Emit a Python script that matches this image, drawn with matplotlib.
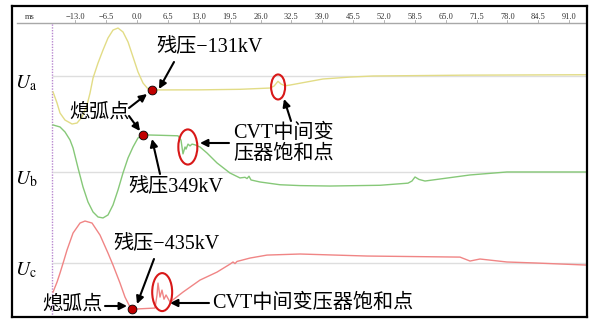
import matplotlib.pyplot as plt
from matplotlib.patches import Ellipse

plt.rcParams['mathtext.fontset'] = 'stix'
plt.rcParams['font.family'] = ['Liberation Serif', 'Noto Sans CJK SC']

# phase voltages in kV, time in ms
t_a = [-17.68, -16.84, -16.21, -15.16, -13.68, -12.63, -11.58, -10.53, -9.89, -9.26,
       -8.21, -7.16, -6.11, -5.05, -4.00, -2.95, -1.89, -0.84, 0.21, 1.26, 2.32, 3.16,
       13.26, 21.68, 28.0, 28.84, 29.68, 30.32, 31.16, 32.21, 39.16, 44.84, 49.68, 69.05, 94.74]
u_a = [-150, -254, -348, -414, -451, -442, -385, -273, -160, -19,
       122, 244, 357, 432, 451, 414, 320, 179, 38, -66, -122, -131,
       -130, -125, -113, -95, -50, -75, -92, -85, -28, -10, 0, 8, 12]

t_b = [-17.68, -16.21, -15.16, -14.11, -13.47, -12.42, -11.37, -10.32, -9.26, -8.21,
       -7.16, -6.11, -5.05, -4.00, -2.95, -1.89, -0.84, 0.21, 1.26,
       4.84, 8.63, 9.26, 9.68, 10.11, 10.32, 10.74, 11.16, 11.58, 12.21, 13.26, 14.74,
       16.84, 19.58, 21.68, 22.74, 23.16, 23.58, 24.0, 25.89, 30.11, 34.32, 40.63, 51.16,
       57.05, 57.89, 58.53, 59.37, 60.63, 63.79, 70.11, 77.89, 94.74]
u_b = [442, 423, 376, 301, 226, 38, -141, -282, -376, -423,
       -432, -404, -310, -169, -9, 132, 235, 320, 349,
       345, 340, 300, 170, 235, 215, 262, 245, 262, 255, 235, 178,
       85, -10, -56, -50, -62, -40, -75, -94, -120, -128, -132, -125,
       -105, -85, -47, -70, -85, -66, -28, 0, 0]

t_c = [-17.68, -16.84, -16.21, -15.37, -14.74, -13.47, -12.0, -10.95, -9.47, -7.79,
       -6.11, -5.05, -3.58, -2.53, -1.68, -1.05,
       0.63, 3.79, 4.21, 4.42, 4.84, 5.26, 5.68, 6.11, 6.95, 9.68, 13.26, 16.84, 19.58,
       20.21, 20.63, 21.05, 23.79, 27.37, 34.32, 48.42, 68.0, 70.11, 72.21, 77.89, 84.21, 94.74]
u_c = [-273, -179, -94, 28, 122, 282, 376, 395, 376, 263,
       94, -19, -188, -320, -395, -435,
       -430, -423, -300, -188, -320, -254, -340, -300, -367, -273, -160, -85, -10,
       10, -5, 15, 47, 75, 85, 66, 56, 19, 38, 10, 0, -19]

# arc extinction instants and residual voltages
t_ext = [3.16, 1.26, -1.05]
u_res = [-131, 349, -435]

# CVT saturation regions: centre (ms, kV) and size (ms, kV)
sat_t = [29.7, 10.7, 5.3]
sat_u = [-103, 235, -273]
sat_w = [2.95, 4.0, 4.2]
sat_h = [235, 330, 357]

tick_ms = [-13.0, -6.5, 0.0, 6.5, 13.0, 19.5, 26.0, 32.5, 39.0, 45.5,
           52.0, 58.5, 65.0, 71.5, 78.0, 84.5, 91.0]

offsets = [0, -902, -1758]
colors = ['#e2dc86', '#86c878', '#f08585']
names = [r'$U_{\mathrm{a}}$', r'$U_{\mathrm{b}}$', r'$U_{\mathrm{c}}$']
t_start = -17.9

fig = plt.figure(figsize=(5.92, 3.2), dpi=100)
ax = fig.add_axes([12 / 592, 3 / 320, 575 / 592, 311 / 320])
ax.set_xlim(-26.32, 94.74)
ax.set_ylim(-2265, 658)
ax.set_xticks([])
ax.set_yticks([])
for s in ax.spines.values():
    s.set_linewidth(1.6)
    s.set_color('black')

head_y = 0.945
ax.axhline(head_y * 658 + (1 - head_y) * -2265, xmin=5 / 575, color='#a8a8a8', lw=1)
ax.axvline(t_start, ymax=head_y, color='#b888d0', lw=1, ls=(0, (1, 1)))
ax.hlines(offsets, t_start, 94.74, color='#dedede', lw=1)

tr = ax.get_xaxis_transform()
for v in tick_ms:
    ax.text(v, 0.966, f'{v:.1f}'.replace('-', '\u2212'), transform=tr,
            ha='center', va='center', fontsize=6, color='#333333')
    ax.plot([v, v], [head_y, head_y + 0.01], transform=tr, color='#a8a8a8', lw=0.6)
ax.text(-22.5, 0.966, 'ms', transform=tr, ha='center', va='center',
        fontsize=6, color='#333333')

for tt, uu, off, c in zip([t_a, t_b, t_c], [u_a, u_b, u_c], offsets, colors):
    ax.plot(tt, [u + off for u in uu], color=c, lw=1)

for i in range(3):
    ax.add_patch(Ellipse((sat_t[i], sat_u[i] + offsets[i]), sat_w[i], sat_h[i],
                         fill=False, edgecolor='#d81818', lw=1.5, zorder=4))

ax.scatter(t_ext, [u + o for u, o in zip(u_res, offsets)], s=40,
           color='#c00000', edgecolors='black', linewidths=0.6, zorder=5)

for name, off in zip(names, offsets):
    ax.text(-23.4, off - 70, name, ha='center', va='center', fontsize=14)


def fp(x, y):
    return (x, 320 - y)


arrow = dict(arrowstyle='-|>', color='black', lw=1.5, mutation_scale=11,
             shrinkA=0, shrinkB=0)
fs = 14.5

ax.annotate('残压\u2212131kV', xy=fp(210, 48), xycoords='figure pixels',
            ha='center', va='center', fontsize=fs)
ax.annotate('', xy=fp(159, 89), xytext=fp(174, 62), xycoords='figure pixels',
            textcoords='figure pixels', arrowprops=arrow)

ax.annotate('熄弧点', xy=fp(99, 113), xycoords='figure pixels',
            ha='center', va='center', fontsize=fs)
ax.annotate('', xy=fp(147, 94), xytext=fp(129, 108), xycoords='figure pixels',
            textcoords='figure pixels', arrowprops=arrow)
ax.annotate('', xy=fp(140, 131), xytext=fp(129, 116), xycoords='figure pixels',
            textcoords='figure pixels', arrowprops=arrow)

ax.annotate('残压349kV', xy=fp(176, 188), xycoords='figure pixels',
            ha='center', va='center', fontsize=fs)
ax.annotate('', xy=fp(152, 139), xytext=fp(160, 174), xycoords='figure pixels',
            textcoords='figure pixels', arrowprops=arrow)

ax.annotate('CVT中间变\n压器饱和点', xy=fp(233, 144), xycoords='figure pixels',
            ha='left', va='center', fontsize=fs, linespacing=1.15)
ax.annotate('', xy=fp(200, 143), xytext=fp(229, 143), xycoords='figure pixels',
            textcoords='figure pixels', arrowprops=arrow)
ax.annotate('', xy=fp(284, 99), xytext=fp(291, 121), xycoords='figure pixels',
            textcoords='figure pixels', arrowprops=arrow)

ax.annotate('残压\u2212435kV', xy=fp(166, 245), xycoords='figure pixels',
            ha='center', va='center', fontsize=fs)
ax.annotate('', xy=fp(137, 304), xytext=fp(154, 259), xycoords='figure pixels',
            textcoords='figure pixels', arrowprops=arrow)

ax.annotate('熄弧点', xy=fp(72, 305), xycoords='figure pixels',
            ha='center', va='center', fontsize=fs)
ax.annotate('', xy=fp(127, 306), xytext=fp(105, 306), xycoords='figure pixels',
            textcoords='figure pixels', arrowprops=arrow)

ax.annotate('CVT中间变压器饱和点', xy=fp(212, 303), xycoords='figure pixels',
            ha='left', va='center', fontsize=fs)
ax.annotate('', xy=fp(170, 303), xytext=fp(209, 303), xycoords='figure pixels',
            textcoords='figure pixels', arrowprops=arrow)

fig.savefig('out.png', dpi=100)
